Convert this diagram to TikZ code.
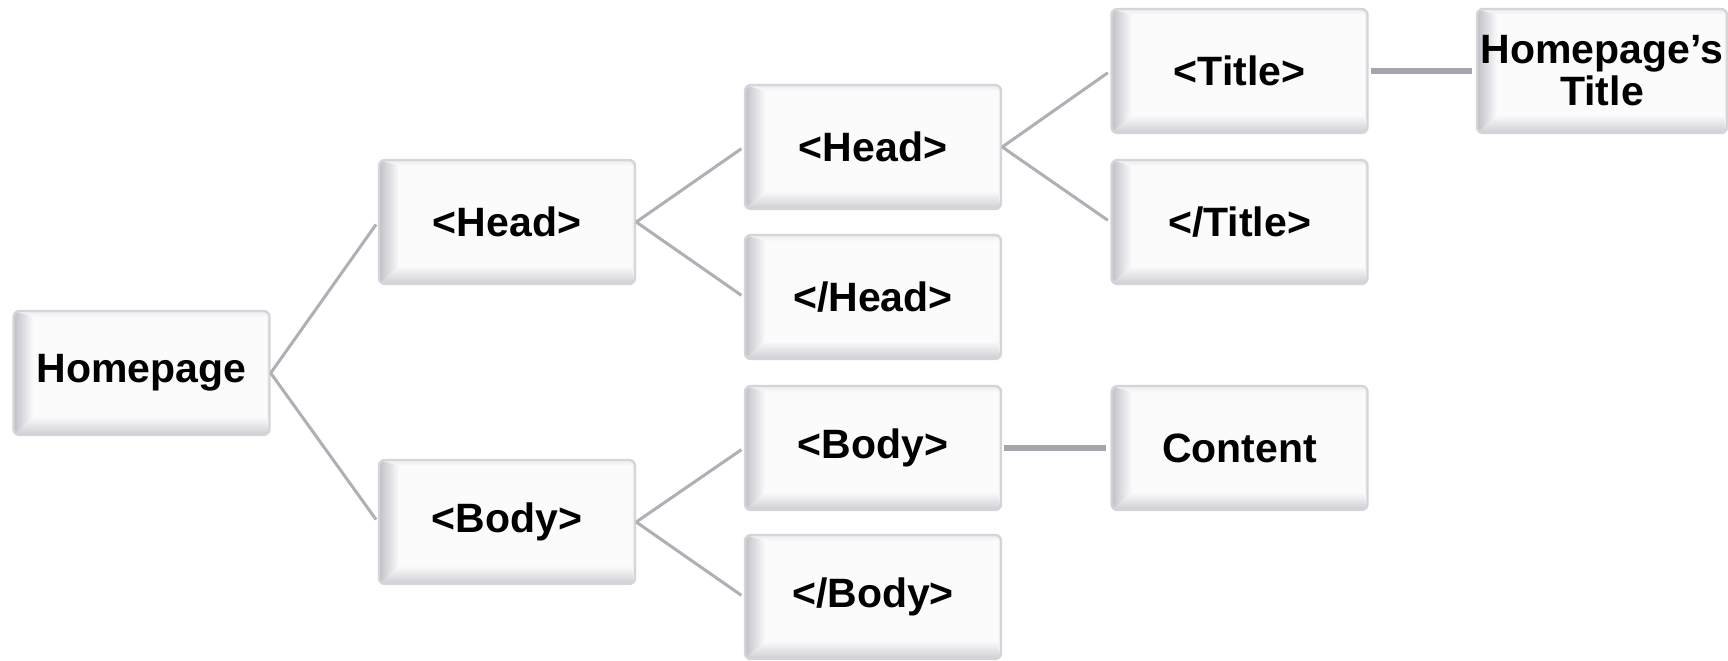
\documentclass[tikz,border=0pt]{standalone}
\usepackage{fontspec}
\setmainfont{Liberation Sans}
\definecolor{boxfill}{RGB}{251,251,252}
\definecolor{boxedge}{RGB}{212,212,217}
\definecolor{bevL}{RGB}{192,192,200}
\definecolor{bevB}{RGB}{205,205,212}
\definecolor{bevT}{RGB}{236,236,240}
\definecolor{linkc}{RGB}{175,175,182}
\definecolor{linkd}{RGB}{165,165,173}
\tikzset{
  bev/.style={draw=boxedge, line width=1.2pt, rounded corners=3pt, fill=boxfill,
    minimum width=128pt, minimum height=62pt, inner sep=1pt, align=center,
    font=\bfseries\fontsize{20.5}{21}\selectfont,
    path picture={
      \path (path picture bounding box.south west) coordinate (sw)
            (path picture bounding box.north east) coordinate (ne)
            (path picture bounding box.north west) coordinate (nw)
            (path picture bounding box.south east) coordinate (se);
      \shade[top color=bevT, bottom color=boxfill, draw=none, sharp corners]
        (nw) -- (ne) -- ([shift={(-2pt,-3pt)}]ne) -- ([shift={(10pt,-3pt)}]nw) -- cycle;
      \shade[left color=boxfill, right color=bevT, draw=none, sharp corners]
        (ne) -- (se) -- ([shift={(-2pt,9pt)}]se) -- ([shift={(-2pt,-3pt)}]ne) -- cycle;
      \shade[bottom color=bevB, top color=boxfill, draw=none, sharp corners]
        (sw) -- ([shift={(10pt,9pt)}]sw) -- ([shift={(-2pt,9pt)}]se) -- (se) -- cycle;
      \shade[left color=bevL, right color=boxfill, draw=none, sharp corners]
        (sw) -- (nw) -- ([shift={(10pt,-3pt)}]nw) -- ([shift={(10pt,9pt)}]sw) -- cycle;
    }},
  link/.style={draw=linkc, line width=1.5pt, shorten >=1.5pt},
  linkthick/.style={draw=linkd, line width=2.8pt, shorten >=2pt, shorten <=1pt}
}
\begin{document}
\begin{tikzpicture}[x=0.5pt, y=-0.5pt]
\clip (0,0) rectangle (1728,660);
\fill[white] (0,0) rectangle (1728,660);
\node[bev] (hp) at (141.5,373) {Homepage};
\node[bev] (h1) at (507,222) {<Head>};
\node[bev] (b1) at (507,522) {<Body>};
\node[bev] (h2) at (873,147) {<Head>};
\node[bev] (eh) at (873,297) {</Head>};
\node[bev] (b2) at (873,448) {<Body>};
\node[bev] (eb) at (873,597) {</Body>};
\node[bev] (ti) at (1239.5,71) {<Title>};
\node[bev] (et) at (1239.5,222) {</Title>};
\node[bev] (co) at (1239.5,448) {Content};
\node[bev, minimum width=125pt] (ht) at (1602,71) {Homepage’s\\Title};
\draw[link] (hp.east) -- (h1.west);
\draw[link] (hp.east) -- (b1.west);
\draw[link] (h1.east) -- (h2.west);
\draw[link] (h1.east) -- (eh.west);
\draw[link] (b1.east) -- (b2.west);
\draw[link] (b1.east) -- (eb.west);
\draw[link] (h2.east) -- (ti.west);
\draw[link] (h2.east) -- (et.west);
\draw[linkthick] (ti.east) -- (ht.west);
\draw[linkthick] (b2.east) -- (co.west);
\end{tikzpicture}
\end{document}
